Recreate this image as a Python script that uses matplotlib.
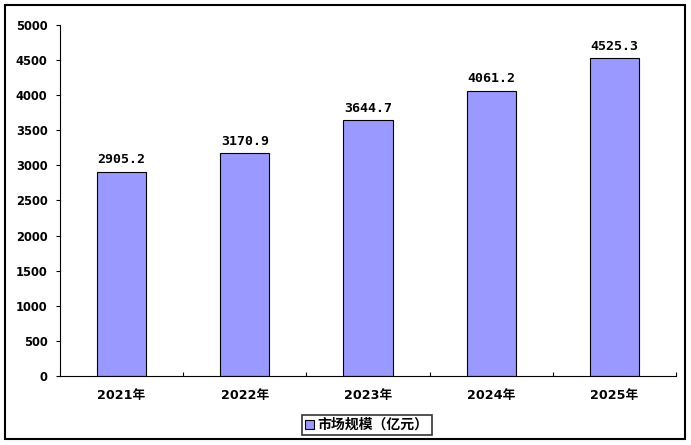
import matplotlib
matplotlib.use("Agg")
import matplotlib.pyplot as plt
from matplotlib.patches import Rectangle

plt.rcParams['font.family'] = ['DejaVu Sans', 'Noto Sans CJK SC']

categories = ['2021年', '2022年', '2023年', '2024年', '2025年']
values = [2905.2, 3170.9, 3644.7, 4061.2, 4525.3]
series_name = '市场规模（亿元）'
yticks = [0, 500, 1000, 1500, 2000, 2500, 3000, 3500, 4000, 4500, 5000]

W, H = 691, 445
fig = plt.figure(figsize=(W / 100, H / 100), dpi=100)
fig.patches.append(Rectangle((5 / W, 6 / H), 680 / W, 434 / H, transform=fig.transFigure,
                             fill=False, edgecolor='black', linewidth=1.5))

ax = fig.add_axes([60 / W, (H - 376) / H, 616 / W, 351 / H])
x = range(len(categories))
bars = ax.bar(x, values, width=0.4, color='#9999FF', edgecolor='black', linewidth=0.8,
              label=series_name)
for xi, v in zip(x, values):
    ax.annotate(f'{v:.1f}', (xi, v), xytext=(0, 4), textcoords='offset points',
                ha='center', va='bottom', fontsize=9.5, fontweight='bold',
                family='DejaVu Sans Mono')

ax.set_xlim(-0.5, len(categories) - 0.5)
ax.set_ylim(0, 5000)
ax.set_yticks(yticks)
ax.set_yticklabels([str(t) for t in yticks], fontsize=8.3, fontweight='bold')
ax.tick_params(axis='y', direction='out', length=3, width=0.8, pad=6)
ax.set_xticks(list(x))
ax.set_xticklabels(categories, fontsize=9.2, fontweight='bold',
                   family=['DejaVu Sans', 'Noto Sans CJK SC'])
ax.tick_params(axis='x', length=0, pad=9)
ax.set_xticks([i + 0.5 for i in x], minor=True)
ax.tick_params(axis='x', which='minor', direction='in', length=3, width=0.8)
ax.spines['top'].set_visible(False)
ax.spines['right'].set_visible(False)
ax.spines['left'].set_linewidth(0.8)
ax.spines['bottom'].set_linewidth(0.8)

leg = fig.legend(handles=[bars], labels=[series_name], loc='center',
                 bbox_to_anchor=(367 / W, (H - 425) / H), frameon=True, fancybox=False,
                 edgecolor='black', prop={'size': 10, 'weight': 'bold',
                                          'family': ['Noto Sans CJK SC']},
                 handlelength=0.6, handleheight=0.6, handletextpad=0.3,
                 borderpad=0.2, borderaxespad=0)
leg.get_frame().set_linewidth(1.2)

fig.savefig('out.png', dpi=100)
